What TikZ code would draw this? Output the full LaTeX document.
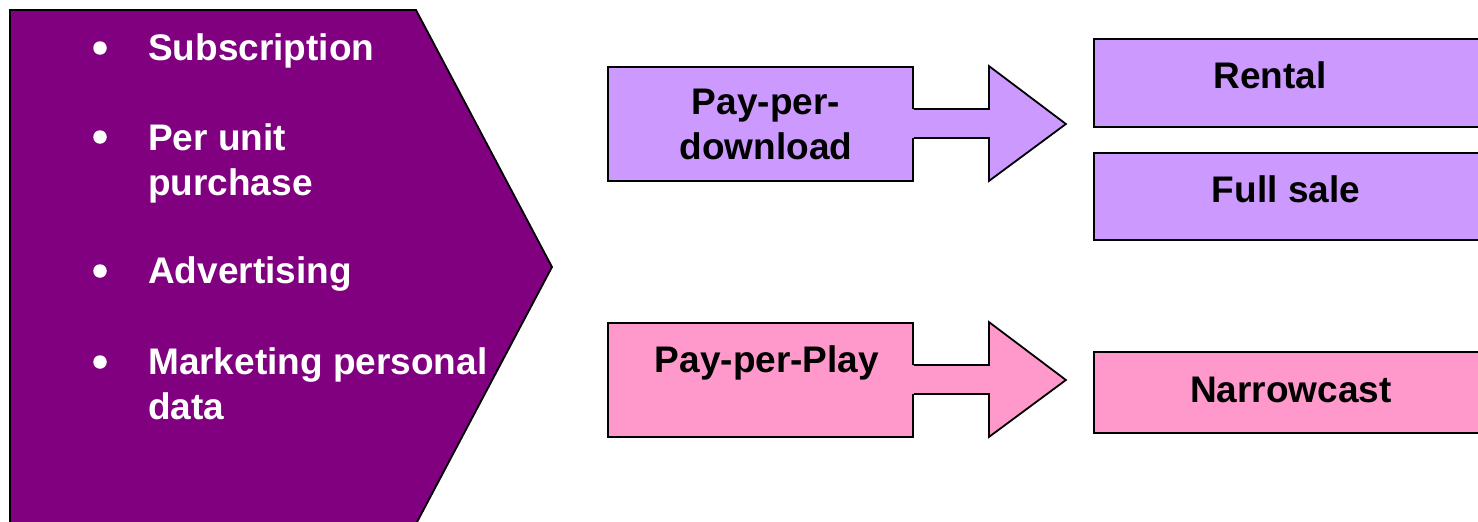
\documentclass[tikz,border=0pt]{standalone}
\usepackage{fontspec}
\setmainfont{Liberation Sans}
\usetikzlibrary{calc}

\definecolor{plum}{HTML}{800080}
\definecolor{lav}{HTML}{CC99FF}
\definecolor{rose}{HTML}{FF99CC}

\begin{document}
\begin{tikzpicture}[x=1pt, y=-1pt,
  outline/.style={draw=black, line width=1.8pt, line join=miter},
  txt/.style={font=\fontsize{37}{45}\selectfont\bfseries, inner sep=0pt, anchor=base},
  wtxt/.style={txt, text=white, anchor=base west, align=left},
  dot/.style={circle, fill=white, inner sep=0pt, minimum size=13.5pt},
  srcbox/.style={outline, rectangle, inner sep=0pt, minimum width=305pt, minimum height=114pt},
  tgtbox/.style={outline, rectangle, inner sep=0pt, anchor=north west, minimum width=440pt}
]
\useasboundingbox (0,0) rectangle (1478,522);
\clip (0,0) rectangle (1478,522);

% revenue-source chevron
\draw[outline, fill=plum] (10,10) -- (416,10) -- (552,267) -- (416,524) -- (10,524) -- cycle;

% bullets; multi-line items are placed by the baseline of their last line
\node[dot] (b1) at (100,48) {};
\node[dot] (b2) at (100,137) {};
\node[dot] (b3) at (100,271) {};
\node[dot] (b4) at (100,362) {};
\node[wtxt] (t1) at (148,60) {Subscription};
\node[wtxt] (t2) at (148,195) {Per unit\\purchase};
\node[wtxt] (t3) at (148,283) {Advertising};
\node[wtxt] (t4) at (148,419) {Marketing personal\\data};

% pricing models with their block arrows
\node[srcbox, fill=lav] (pd) at (760.5,124) {};
\node[srcbox, fill=rose] (pp) at (760.5,380) {};

\foreach \src/\col in {pd/lav, pp/rose} {
  \fill[\col] ($(\src.east)+(-2,-15)$) -- ($(\src.east)+(75,-15)$) -- ($(\src.east)+(75,-58)$)
    -- ($(\src.east)+(152,0)$) -- ($(\src.east)+(75,57)$) -- ($(\src.east)+(75,14)$)
    -- ($(\src.east)+(-2,14)$) -- cycle;
  \draw[outline] ($(\src.east)+(0,-15)$) -- ($(\src.east)+(75,-15)$) -- ($(\src.east)+(75,-58)$)
    -- ($(\src.east)+(152,0)$) -- ($(\src.east)+(75,57)$) -- ($(\src.east)+(75,14)$)
    -- ($(\src.east)+(0,14)$);
}

\node[txt, align=center] (pdt) at (766,159) {Pay-per-\\download};
\node[txt] (ppt) at (767,372) {Pay-per-Play};

% resulting offers
\node[tgtbox, fill=lav, minimum height=88pt] (rental) at (1093,38) {};
\node[tgtbox, fill=lav, minimum height=87pt] (full) at (1093,152) {};
\node[tgtbox, fill=rose, minimum height=81pt] (narrow) at (1093,351) {};
\node[txt] (rentalt) at (1270,88) {Rental};
\node[txt] (fullt) at (1286,202) {Full sale};
\node[txt] (narrowt) at (1291,402) {Narrowcast};
\end{tikzpicture}
\end{document}
